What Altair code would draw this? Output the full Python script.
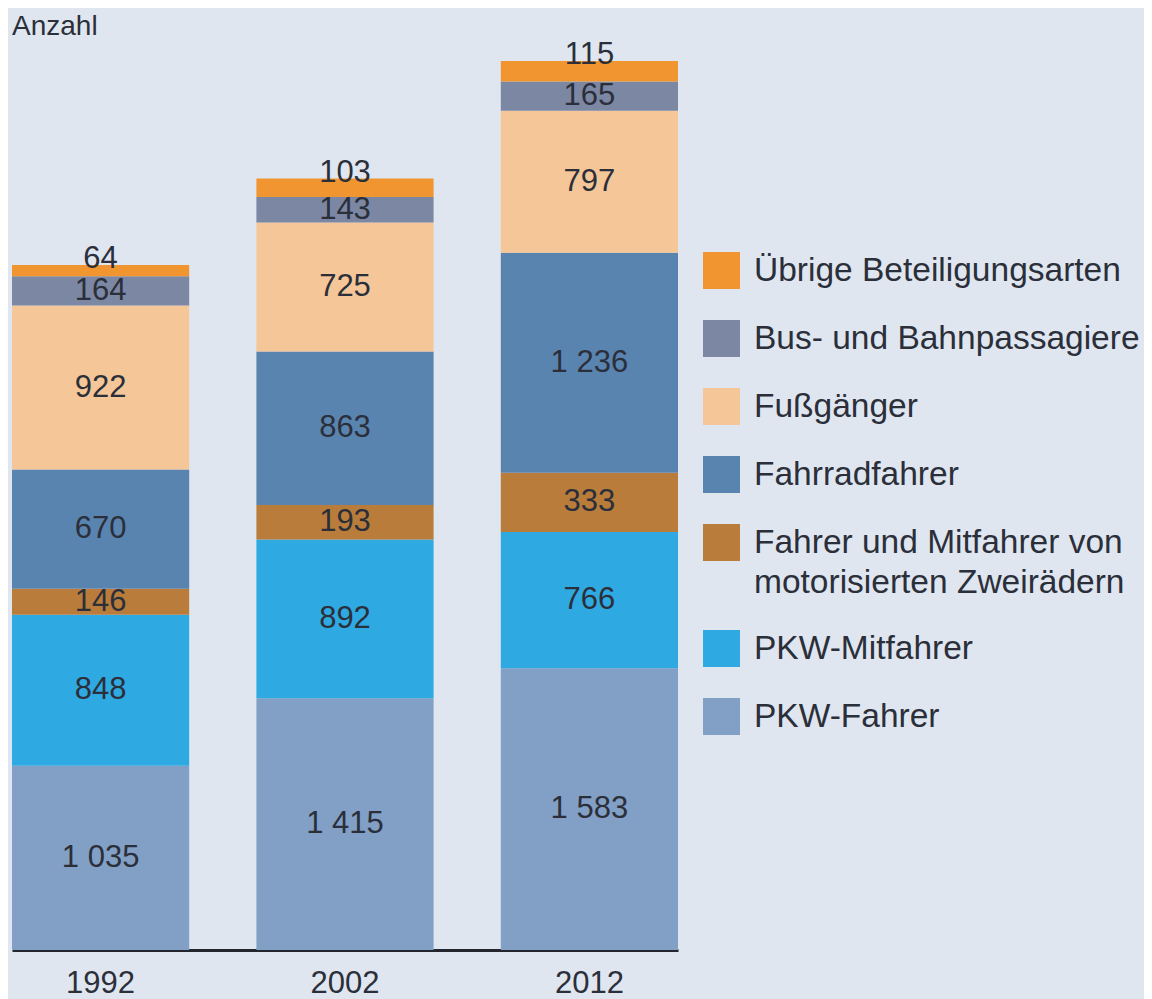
import altair as alt
import pandas as pd

# ---- data ----
years = ["1992", "2002", "2012"]
# stacking order, bottom to top
categories = [
    "PKW-Fahrer",
    "PKW-Mitfahrer",
    "Fahrer und Mitfahrer von motorisierten Zweirädern",
    "Fahrradfahrer",
    "Fußgänger",
    "Bus- und Bahnpassagiere",
    "Übrige Beteiligungsarten",
]
pkw_fahrer = [1035, 1415, 1583]
pkw_mitfahrer = [848, 892, 766]
zweirad = [146, 193, 333]
fahrrad = [670, 863, 1236]
fussgaenger = [922, 725, 797]
bus_bahn = [164, 143, 165]
uebrige = [64, 103, 115]
series = [pkw_fahrer, pkw_mitfahrer, zweirad, fahrrad, fussgaenger, bus_bahn, uebrige]
colors = ["#82a0c5", "#2fa9e2", "#b97c3a", "#5a84b0", "#f5c697", "#7c87a3", "#f0952f"]

FONT = "Liberation Sans"
TXT = "#2b2f3a"
BG = "#dfe6f0"

rows = []
for j, yr in enumerate(years):
    base = 0
    for i, cat in enumerate(categories):
        v = series[i][j]
        rows.append(dict(Jahr=yr, Kategorie=cat, Wert=v, y0=base, y1=base + v,
                         mid=base + v / 2, Label=f"{v:,}".replace(",", " ")))
        base += v
df = pd.DataFrame(rows)

legend_order = categories[::-1]
legend_colors = colors[::-1]
MOTOR = categories[2]
TOP = categories[-1]

color_scale = alt.Scale(domain=legend_order, range=legend_colors)
y_scale = alt.Scale(domain=[0, 5096], nice=False, zero=True)

label_expr = ("datum.label == '" + MOTOR + "' ? ['Fahrer und Mitfahrer von', "
              "'motorisierten Zweirädern'] : datum.label")

leg = alt.Legend(title=None, orient="none", legendX=691, legendY=209,
                 labelFontSize=33.5, labelFont=FONT, labelColor=TXT, labelLimit=700,
                 symbolType="square", symbolSize=1369, symbolStrokeWidth=0,
                 symbolOpacity=1, rowPadding=31, labelOffset=14, padding=0,
                 labelExpr=label_expr)

x_enc = alt.X("Jahr:N", sort=years,
              scale=alt.Scale(paddingInner=0.275, paddingOuter=0),
              axis=alt.Axis(title=None, labelAngle=0, ticks=False, domainColor="#23262d",
                            domainWidth=3, labelFontSize=31, labelFont=FONT,
                            labelColor=TXT, labelPadding=18, grid=False))

base = alt.Chart(df)

bars = base.mark_bar(strokeWidth=0).encode(
    x=x_enc,
    y=alt.Y("y0:Q", scale=y_scale, axis=None),
    y2="y1:Q",
    color=alt.Color("Kategorie:N", scale=color_scale, legend=leg),
)

mid_text = base.transform_filter(f"datum.Kategorie != '{TOP}'").mark_text(
    font=FONT, fontSize=31, color=TXT, baseline="middle"
).encode(
    x=x_enc,
    y=alt.Y("mid:Q", scale=y_scale, axis=None),
    text="Label:N",
)

top_text = base.transform_filter(f"datum.Kategorie == '{TOP}'").mark_text(
    font=FONT, fontSize=31, color=TXT, baseline="alphabetic", dy=3
).encode(
    x=x_enc,
    y=alt.Y("y1:Q", scale=y_scale, axis=None),
    text="Label:N",
)

chart = alt.layer(bars, mid_text, top_text).properties(
    width=666,
    height=907,
    title=alt.TitleParams("Anzahl", anchor="start", fontSize=28, font=FONT,
                          fontWeight="normal", color=TXT, offset=-2),
    padding={"left": 4, "top": 35, "right": 466, "bottom": 49},
    autosize=alt.AutoSizeParams(type="none"),
    background=BG,
).configure(style={"guide-label": {"lineHeight": 40}}).configure_view(stroke=None)

chart.save("out.html", embed_options={"renderer": "svg", "actions": False})
